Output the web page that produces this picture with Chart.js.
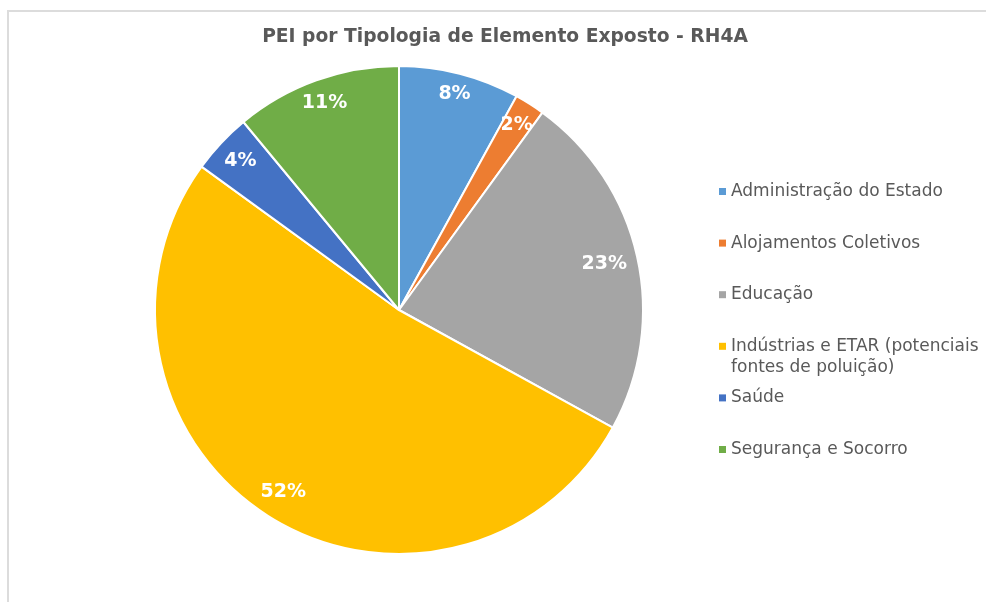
<!DOCTYPE html>
<html lang="pt">
<head>
<meta charset="utf-8">
<title>PEI por Tipologia de Elemento Exposto - RH4A</title>
<script src="https://cdn.jsdelivr.net/npm/chart.js@4.4.1/dist/chart.umd.min.js"></script>
<style>
  html, body { margin: 0; padding: 0; background: #fff; overflow: hidden; }
  .frame {
    position: absolute; left: 7px; top: 10px; width: 1100px; height: 700px;
    border-left: 2px solid #dcdcdc; border-top: 2px solid #dcdcdc;
  }
  #peiChart { position: absolute; left: 7px; top: 10px; }
</style>
</head>
<body>
<div class="frame"></div>
<canvas id="peiChart" width="996" height="592"></canvas>
<script>
const chartTitle = "PEI por Tipologia de Elemento Exposto - RH4A";

const categories = [
  "Administração do Estado",
  "Alojamentos Coletivos",
  "Educação",
  "Indústrias e ETAR (potenciais fontes de poluição)",
  "Saúde",
  "Segurança e Socorro",
];

// share of PEI per category, in %
const percentages = [8, 2, 23, 52, 4, 11];

const sliceColors = ["#5B9BD5", "#ED7D31", "#A5A5A5", "#FFC000", "#4472C4", "#70AD47"];

const textColor = "#595959";
const baseFont = "'DejaVu Sans', Verdana, sans-serif";

// split a legend entry into lines no wider than maxWidth
function wrapText(ctx, text, maxWidth) {
  const words = text.split(" ");
  const lines = [];
  let line = "";
  words.forEach((word) => {
    const test = line ? line + " " + word : word;
    if (line && ctx.measureText(test).width > maxWidth) {
      lines.push(line);
      line = word;
    } else {
      line = test;
    }
  });
  if (line) lines.push(line);
  return lines;
}

const pieExtras = {
  id: "pieExtras",
  // percentage labels just inside the outer edge of each slice
  afterDatasetsDraw(chart) {
    const ctx = chart.ctx;
    const arcs = chart.getDatasetMeta(0).data;
    ctx.save();
    ctx.font = "bold 19px " + baseFont;
    ctx.fillStyle = "#ffffff";
    ctx.textAlign = "center";
    ctx.textBaseline = "middle";
    arcs.forEach((arc, i) => {
      const { x, y, startAngle, endAngle, outerRadius } = arc.getProps(
        ["x", "y", "startAngle", "endAngle", "outerRadius"], true
      );
      const mid = (startAngle + endAngle) / 2;
      const text = percentages[i] + "%";
      const w = ctx.measureText(text).width;
      const h = 14;
      const ux = Math.cos(mid);
      const uy = Math.sin(mid);
      const inset = Math.abs(ux) * w / 2 + Math.abs(uy) * h / 2 + 10;
      const r = outerRadius - inset;
      ctx.fillText(text, x + ux * r, y + uy * r);
    });
    ctx.restore();
  },
  // title and the legend on the right
  afterDraw(chart) {
    const ctx = chart.ctx;
    ctx.save();
    ctx.fillStyle = textColor;
    ctx.textAlign = "center";
    ctx.textBaseline = "middle";
    ctx.font = "bold 18.7px " + baseFont;
    ctx.fillText(chartTitle, chart.width / 2, 27);

    ctx.font = "17px " + baseFont;
    ctx.textAlign = "left";
    categories.forEach((name, i) => {
      const y = 181.5 + i * 51.6;
      const lines = wrapText(ctx, name, 262);
      ctx.fillStyle = sliceColors[i];
      ctx.fillRect(712, y - 3.5, 7, 7);
      ctx.fillStyle = textColor;
      lines.forEach((line, k) => ctx.fillText(line, 724, y + k * 21));
    });
    ctx.restore();
  },
};

new Chart(document.getElementById("peiChart"), {
  type: "pie",
  data: {
    labels: categories,
    datasets: [
      {
        data: percentages,
        backgroundColor: sliceColors,
        borderColor: "#ffffff",
        borderWidth: 2,
      },
    ],
  },
  options: {
    responsive: false,
    animation: false,
    events: [],
    layout: {
      padding: { top: 55, bottom: 47, left: 147, right: 359 },
    },
    plugins: {
      legend: { display: false },
      title: { display: false },
      tooltip: { enabled: false },
    },
  },
  plugins: [pieExtras],
});
</script>
</body>
</html>
